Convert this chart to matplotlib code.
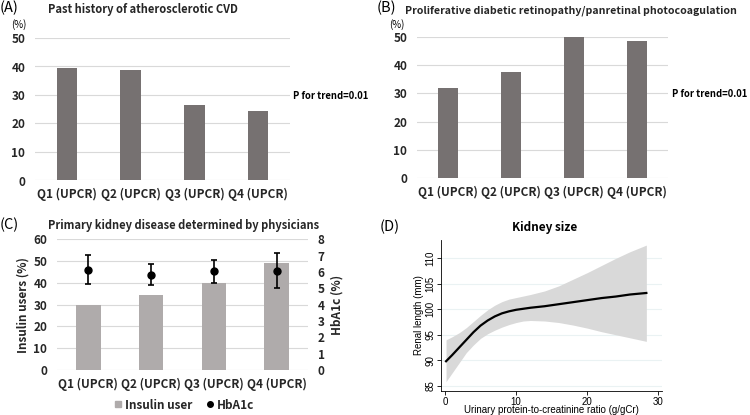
import numpy as np
import matplotlib.pyplot as plt
from matplotlib.lines import Line2D

plt.rcParams['font.family'] = ['Noto Sans CJK JP', 'DejaVu Sans']

W, H = 750, 415

# ---- data ----
quartiles = ['Q1 (UPCR)', 'Q2 (UPCR)', 'Q3 (UPCR)', 'Q4 (UPCR)']
cvd = [39.5, 38.8, 26.6, 24.5]
pdr = [32.0, 37.6, 50.0, 48.4]
insulin = [29.7, 34.5, 40.1, 49.0]
hba1c_mean = [6.13, 5.84, 6.03, 6.09]
hba1c_sd = [0.88, 0.66, 0.71, 1.10]

upcr = [0.15, 1.0, 2.0, 3.0, 4.0, 5.0, 6.0, 7.0, 8.0, 9.0, 10.0, 11.0, 12.0,
        14.0, 16.0, 18.0, 20.0, 22.0, 24.0, 26.0, 28.3]
renal = [89.8, 91.0, 92.5, 94.0, 95.5, 96.8, 97.8, 98.6, 99.2, 99.6, 99.9,
         100.1, 100.3, 100.6, 101.0, 101.4, 101.8, 102.2, 102.5, 102.9, 103.2]
renal_hi = [94.0, 94.6, 95.4, 96.4, 97.6, 98.8, 99.9, 100.8, 101.5, 102.0, 102.3,
            102.6, 102.9, 103.6, 104.6, 105.9, 107.2, 108.6, 110.0, 111.3, 112.6]
renal_lo = [85.8, 87.5, 89.5, 91.5, 93.0, 94.3, 95.2, 95.9, 96.5, 97.0, 97.4,
            97.7, 97.8, 97.7, 97.4, 96.9, 96.3, 95.6, 95.0, 94.4, 93.7]


def box(l, r, t, b):
    return [l / W, (H - b) / H, (r - l) / W, (b - t) / H]


def fx(px):
    return px / W


def fy(py):
    return 1 - py / H


fig = plt.figure(figsize=(7.5, 4.15), dpi=100)

grid_c = '#d9d9d9'
txt_c = '#262626'
x = np.arange(4)


def style_ticks(ax):
    ax.tick_params(axis='y', length=0, labelsize=8.5, colors=txt_c, pad=7)
    ax.tick_params(axis='x', length=0, labelsize=8.5, colors=txt_c, pad=5.5)
    for lab in ax.get_yticklabels() + ax.get_xticklabels():
        lab.set_fontweight('bold')


def bar_panel(rect, vals, color, width):
    ax = fig.add_axes(rect)
    ax.bar(x, vals, width=width, color=color, zorder=2)
    ax.set_xlim(-0.5, 3.5)
    ax.set_ylim(0, 50)
    ax.set_yticks(range(0, 51, 10))
    ax.grid(axis='y', color=grid_c, lw=0.8, zorder=0)
    for s in ax.spines.values():
        s.set_visible(False)
    ax.set_xticks(x)
    ax.set_xticklabels(quartiles)
    style_ticks(ax)
    return ax


# (A)
axA = bar_panel(box(35, 290, 38, 180.5), cvd, '#767171', 0.32)
fig.text(fx(0), fy(8), '(A)', fontsize=10.5, va='center', ha='left')
fig.text(fx(48), fy(10), 'Past history of atherosclerotic CVD', fontsize=8.0,
         va='center', ha='left', color=txt_c, fontweight='bold')
fig.text(fx(19), fy(25), '(%)', fontsize=7, va='center', ha='center')
fig.text(fx(293), fy(96), 'P for trend=0.01', fontsize=6.8, va='center', ha='left',
         fontweight='bold')

# (B)
axB = bar_panel(box(417, 668, 36.7, 178.3), pdr, '#767171', 0.32)
fig.text(fx(377), fy(8), '(B)', fontsize=10.5, va='center', ha='left')
fig.text(fx(405), fy(11), 'Proliferative diabetic retinopathy/panretinal photocoagulation',
         fontsize=7.6, va='center', ha='left', color=txt_c, fontweight='bold')
fig.text(fx(397), fy(25), '(%)', fontsize=7, va='center', ha='center')
fig.text(fx(672), fy(94), 'P for trend=0.01', fontsize=6.8, va='center', ha='left',
         fontweight='bold')

# (C)
axC = fig.add_axes(box(57, 308, 239.3, 370))
axC.bar(x, insulin, width=0.39, color='#afabab', zorder=2)
axC.set_xlim(-0.5, 3.5)
axC.set_ylim(0, 60)
axC.set_yticks(range(0, 61, 10))
axC.grid(axis='y', color=grid_c, lw=0.8, zorder=0)
axC.set_xticks(x)
axC.set_xticklabels(quartiles)
style_ticks(axC)
axC.set_ylabel('Insulin users (%)', fontsize=8.5, labelpad=3, fontweight='bold',
               color=txt_c)
axC2 = axC.twinx()
axC2.errorbar(x, hba1c_mean, yerr=hba1c_sd, fmt='o', color='black', ms=5,
              capsize=2, elinewidth=1.2, capthick=1.2, zorder=3)
axC2.set_ylim(0, 8)
axC2.set_yticks(range(0, 9))
style_ticks(axC2)
axC2.set_ylabel('HbA1c (%)', fontsize=8.5, labelpad=4, fontweight='bold', color=txt_c)
for a in (axC, axC2):
    for s in a.spines.values():
        s.set_visible(False)
fig.text(fx(0), fy(225), '(C)', fontsize=10.5, va='center', ha='left')
fig.text(fx(48), fy(225), 'Primary kidney disease determined by physicians',
         fontsize=8.0, va='center', ha='left', color=txt_c, fontweight='bold')
handles = [Line2D([], [], marker='s', ls='none', color='#afabab', ms=5),
           Line2D([], [], marker='o', ls='none', color='black', ms=4)]
leg = fig.legend(handles, ['Insulin user', 'HbA1c'], loc='center', ncol=2,
                 bbox_to_anchor=(fx(183), fy(405)), frameon=False, fontsize=8.5,
                 handletextpad=0.1, columnspacing=1.0, handlelength=1.0)
for t in leg.get_texts():
    t.set_fontweight('bold')
    t.set_color(txt_c)

# (D)
axD = fig.add_axes(box(441, 662, 240, 391))
axD.fill_between(upcr, renal_lo, renal_hi, color='#d9d9d9', lw=0, zorder=2)
axD.plot(upcr, renal, color='black', lw=1.6, zorder=3)
axD.set_xlim(-0.56, 30.5)
axD.set_ylim(83.96, 113.6)
axD.set_xticks([0, 10, 20, 30])
axD.set_yticks([85, 90, 95, 100, 105, 110])
axD.grid(axis='y', color='#eaf2f3', lw=0.8, zorder=0)
axD.spines['top'].set_visible(False)
axD.spines['right'].set_visible(False)
for s in ('left', 'bottom'):
    axD.spines[s].set_linewidth(0.6)
axD.tick_params(length=3, width=0.6, labelsize=7, pad=1)
for lab in axD.get_xticklabels() + axD.get_yticklabels():
    lab.set_family('Liberation Sans')
for lab in axD.get_yticklabels():
    lab.set_rotation(90)
    lab.set_va('center')
axD.set_xlabel('Urinary protein-to-creatinine ratio (g/gCr)', fontsize=7,
               family='Liberation Sans', labelpad=-1)
axD.set_ylabel('Renal length (mm)', fontsize=7, family='Liberation Sans', labelpad=1)
fig.text(fx(380), fy(227), '(D)', fontsize=10.5, va='center', ha='left')
fig.text(fx(545), fy(227), 'Kidney size', fontsize=8.5, va='center', ha='center',
         fontweight='bold')

fig.savefig('out.png', dpi=100)
